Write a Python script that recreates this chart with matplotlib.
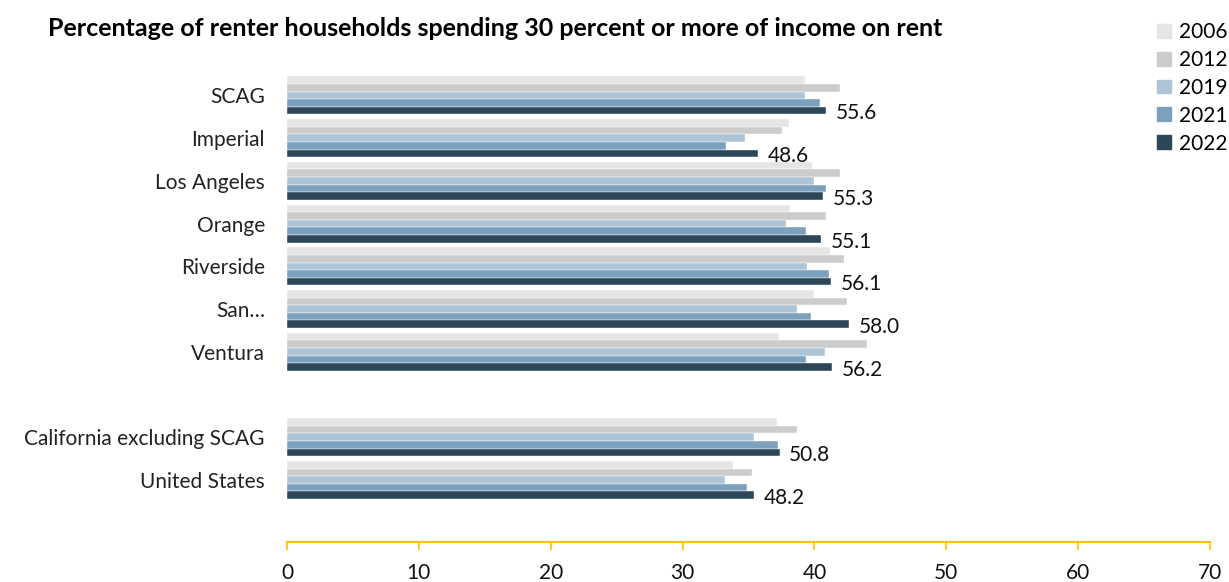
import matplotlib
matplotlib.use("Agg")
from matplotlib import pyplot as plt
from matplotlib.patches import Patch
import numpy as np

plt.rcParams['font.family'] = ['Lato', 'DejaVu Sans']

regions = ["SCAG", "Imperial", "Los Angeles", "Orange", "Riverside", "San\u2026", "Ventura",
           "California excluding SCAG", "United States"]
positions = [0, 1, 2, 3, 4, 5, 6, 8, 9]
years = ["2006", "2012", "2019", "2021", "2022"]

share_2006 = [53.4, 51.8, 54.1, 51.9, 56.0, 54.4, 50.7, 50.5, 46.0]
share_2012 = [57.0, 51.1, 57.0, 55.6, 57.4, 57.8, 59.8, 52.6, 48.0]
share_2019 = [53.4, 47.2, 54.4, 51.5, 53.6, 52.6, 55.5, 48.2, 45.2]
share_2021 = [55.0, 45.3, 55.6, 53.5, 55.9, 54.0, 53.5, 50.6, 47.4]
share_2022 = [55.6, 48.6, 55.3, 55.1, 56.1, 58.0, 56.2, 50.8, 48.2]

series = [share_2006, share_2012, share_2019, share_2021, share_2022]
colors = ["#E5E5E5", "#CCCCCC", "#ADC4D6", "#7BA1BF", "#2D4759"]

fig = plt.figure(figsize=(12.29, 5.82), dpi=100)
ax = fig.add_axes([287 / 1229, 40 / 582, 923 / 1229, 468 / 582])

h = 0.178
pos = np.array(positions, dtype=float)
for i, vals in enumerate(series):
    ax.barh(pos + (i - 2) * h, vals, height=h, color=colors[i], edgecolor="white", linewidth=0.3)

# value labels on the latest year
for p, v in zip(pos, share_2022):
    ax.annotate(f"{v:.1f}", (v, p + 2 * h), xytext=(7, -2), textcoords="offset points",
                va="center", ha="left", fontsize=15, color="#111111")

ax.set_xlim(0, 95.2)
ax.set_ylim(10.45, -0.5)
ax.set_yticks(pos)
ax.set_yticklabels(regions, fontsize=15, color="#222222")
ax.tick_params(axis="y", length=0, pad=16)
ax.set_xticks([])
for s in ax.spines.values():
    s.set_visible(False)

# percentage scale along the bottom
ax2 = ax.twiny()
ax2.set_xlim(0, 70)
ax2.set_xticks(range(0, 71, 10))
ax2.xaxis.set_ticks_position("bottom")
ax2.xaxis.set_label_position("bottom")
ax2.tick_params(axis="x", colors="#FFC000", length=6, width=1.2, labelsize=15,
                labelcolor="#111111", pad=9)
for name, s in ax2.spines.items():
    s.set_visible(name == "bottom")
ax2.spines["bottom"].set_color("#FFC000")
ax2.spines["bottom"].set_linewidth(1.5)

fig.text(48 / 1229, 1 - 28 / 582, "Percentage of renter households spending 30 percent or more of income on rent",
         fontsize=18, fontweight="bold", va="center", ha="left")

handles = [Patch(color=c) for c in colors]
fig.legend(handles, years, loc="upper left", bbox_to_anchor=(1157 / 1229, 1 - 22 / 582),
           frameon=False, fontsize=15, handlelength=0.65, handleheight=0.65,
           handletextpad=0.4, labelspacing=0.38, borderaxespad=0, borderpad=0)

fig.savefig("out.png", dpi=100)
